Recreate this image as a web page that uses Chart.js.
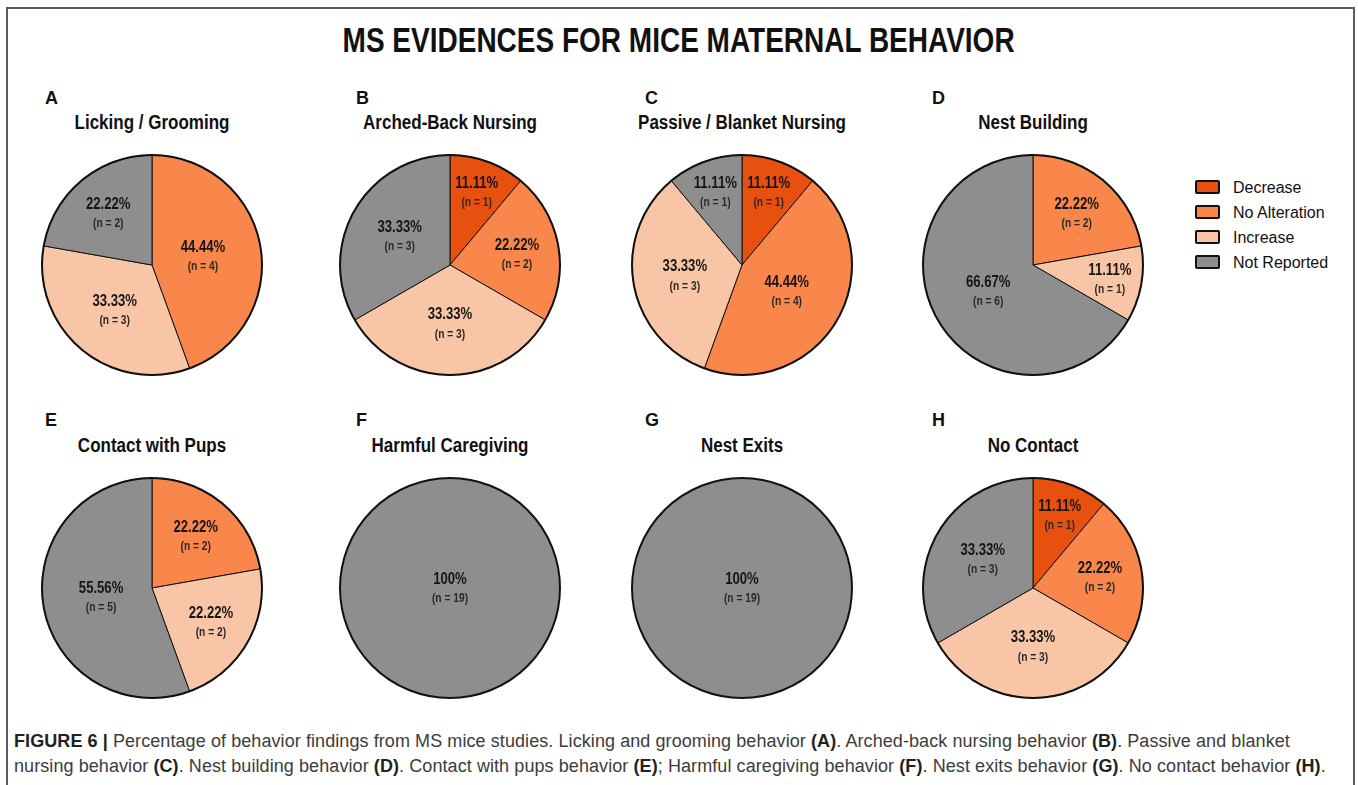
<!DOCTYPE html>
<html>
<head>
<meta charset="utf-8">
<script src="https://cdn.jsdelivr.net/npm/chart.js@4.4.1/dist/chart.umd.min.js"></script>
<style>
  html, body { margin: 0; padding: 0; background: #fff; overflow: hidden; }
  body { width: 1358px; height: 785px; position: relative; font-family: "Liberation Sans", Arial, sans-serif; }
  .frame { position: absolute; left: 6px; top: 7px; width: 1349px; height: 800px; border: 2px solid #5a5a5a; box-sizing: border-box; }
  .abs { position: absolute; line-height: 1; white-space: nowrap; }
  .main-title { left: 0; width: 1358px; top: 20px; text-align: center; font: bold 35px "Liberation Sans", Arial, sans-serif; color: #111; transform: scaleX(0.8); transform-origin: 677px 0; }
  .letter { font: bold 18px "Liberation Sans", Arial, sans-serif; color: #111; }
  .sub { width: 300px; text-align: center; font: bold 20px "Liberation Sans", Arial, sans-serif; color: #111; transform: scaleX(0.85); transform-origin: center; }
  canvas.pie { position: absolute; }
  .legend-row { position: absolute; left: 1195px; height: 14px; font: 16px "Liberation Sans", Arial, sans-serif; color: #111; }
  .legend-row .box { position: absolute; left: 0; top: 0; width: 21px; height: 10px; border: 2px solid #111; border-radius: 2px; }
  .legend-row .txt { position: absolute; left: 38px; top: -1px; white-space: nowrap; }
  .caption { left: 14px; top: 729px; font: 18px/25px "Liberation Sans", Arial, sans-serif; color: #3c3c3c; letter-spacing: 0.08px; }
  .caption b { color: #222; }
</style>
</head>
<body>
<div class="frame"></div>
<div class="abs main-title">MS EVIDENCES FOR MICE MATERNAL BEHAVIOR</div>
<div id="panels"></div>
<div id="legend"></div>
<div class="abs caption"><b>FIGURE 6 |</b> Percentage of behavior findings from MS mice studies. Licking and grooming behavior <b>(A)</b>. Arched-back nursing behavior <b>(B)</b>. Passive and blanket<br>nursing behavior <b>(C)</b>. Nest building behavior <b>(D)</b>. Contact with pups behavior <b>(E)</b>; Harmful caregiving behavior <b>(F)</b>. Nest exits behavior <b>(G)</b>. No contact behavior <b>(H)</b>.</div>

<script>
// ---- data (number of studies per finding)
const categories = ['Decrease', 'No Alteration', 'Increase', 'Not Reported'];
const colors = ['#E8500F', '#F9874B', '#F8C5A6', '#8E8E8E'];

const panelLetters = ['A', 'B', 'C', 'D', 'E', 'F', 'G', 'H'];
const panelTitles = ['Licking / Grooming', 'Arched-Back Nursing', 'Passive / Blanket Nursing', 'Nest Building',
                     'Contact with Pups', 'Harmful Caregiving', 'Nest Exits', 'No Contact'];

const lickingGrooming = [0, 4, 3, 2];
const archedBack      = [1, 2, 3, 3];
const passiveBlanket  = [1, 4, 3, 1];
const nestBuilding    = [0, 2, 1, 6];
const contactPups     = [0, 2, 2, 5];
const harmfulCare     = [0, 0, 0, 19];
const nestExits       = [0, 0, 0, 19];
const noContact       = [1, 2, 3, 3];

const panelData = [lickingGrooming, archedBack, passiveBlanket, nestBuilding,
                   contactPups, harmfulCare, nestExits, noContact];

// ---- layout
const centersX = [152, 450, 742, 1033];
const centersY = [265, 588];
const letterX = [45, 356, 645, 932];
const letterY = [88, 410];
const titleY = [111, 434];
const SIZE = 240;
const NARROW = 0.82;

// ---- plugin: slice labels + thick outer ring
function narrowText(ctx, text, x, y) {
  ctx.save();
  ctx.translate(x, y);
  ctx.scale(NARROW, 1);
  ctx.fillText(text, 0, 0);
  ctx.restore();
}

const sliceLabels = {
  id: 'sliceLabels',
  afterDatasetsDraw(chart) {
    const { ctx } = chart;
    const data = chart.data.datasets[0].data;
    const total = data.reduce((a, b) => a + b, 0);
    const arcs = chart.getDatasetMeta(0).data;
    ctx.save();
    ctx.textAlign = 'center';
    ctx.textBaseline = 'middle';
    arcs.forEach((arc, i) => {
      if (!data[i]) return;
      const pct = data[i] / total * 100;
      let x = arc.x, y = arc.y;
      if (pct < 100) {
        const a = arc.endAngle - arc.startAngle;
        const mid = (arc.startAngle + arc.endAngle) / 2;
        const frac = Math.max(0.47, 0.8 - 0.13 * a);
        x += Math.cos(mid) * arc.outerRadius * frac;
        y += Math.sin(mid) * arc.outerRadius * frac;
      }
      ctx.fillStyle = '#151515';
      ctx.font = 'bold 16px "Liberation Sans", Arial, sans-serif';
      narrowText(ctx, pct === 100 ? '100%' : pct.toFixed(2) + '%', x, y - 8);
      ctx.font = 'bold 12.5px "Liberation Sans", Arial, sans-serif';
      ctx.fillStyle = '#2a2a2a';
      narrowText(ctx, '(n = ' + data[i] + ')', x, y + 11);
    });
    const a0 = arcs[0];
    ctx.beginPath();
    ctx.arc(a0.x, a0.y, a0.outerRadius, 0, Math.PI * 2);
    ctx.lineWidth = 2;
    ctx.strokeStyle = '#111';
    ctx.stroke();
    ctx.restore();
  }
};

const panels = document.getElementById('panels');

panelData.forEach((values, i) => {
  const col = i % 4, row = Math.floor(i / 4);

  const letter = document.createElement('div');
  letter.className = 'abs letter';
  letter.style.left = letterX[col] + 'px';
  letter.style.top = letterY[row] + 'px';
  letter.textContent = panelLetters[i];
  panels.append(letter);

  const title = document.createElement('div');
  title.className = 'abs sub';
  title.style.left = (centersX[col] - 150) + 'px';
  title.style.top = titleY[row] + 'px';
  title.textContent = panelTitles[i];
  panels.append(title);

  const canvas = document.createElement('canvas');
  canvas.className = 'pie';
  canvas.width = SIZE;
  canvas.height = SIZE;
  canvas.style.width = SIZE + 'px';
  canvas.style.height = SIZE + 'px';
  canvas.style.left = (centersX[col] - SIZE / 2) + 'px';
  canvas.style.top = (centersY[row] - SIZE / 2) + 'px';
  panels.append(canvas);

  const total = values.reduce((a, b) => a + b, 0);

  new Chart(canvas, {
    type: 'pie',
    data: {
      labels: categories,
      datasets: [{
        data: values,
        backgroundColor: colors,
        borderColor: '#111',
        borderWidth: (c) => (c.raw === 0 || c.raw === total) ? 0 : 1,
        hoverOffset: 0,
      }]
    },
    options: {
      responsive: false,
      animation: false,
      radius: 110,
      layout: { padding: 0 },
      plugins: {
        legend: { display: false },
        tooltip: { enabled: false },
      },
    },
    plugins: [sliceLabels],
  });
});

// ---- legend
const legend = document.getElementById('legend');
categories.forEach((name, i) => {
  const row = document.createElement('div');
  row.className = 'legend-row';
  row.style.top = (180 + i * 25) + 'px';
  const box = document.createElement('span');
  box.className = 'box';
  box.style.background = colors[i];
  const txt = document.createElement('span');
  txt.className = 'txt';
  txt.textContent = name;
  row.append(box, txt);
  legend.append(row);
});
</script>
</body>
</html>
